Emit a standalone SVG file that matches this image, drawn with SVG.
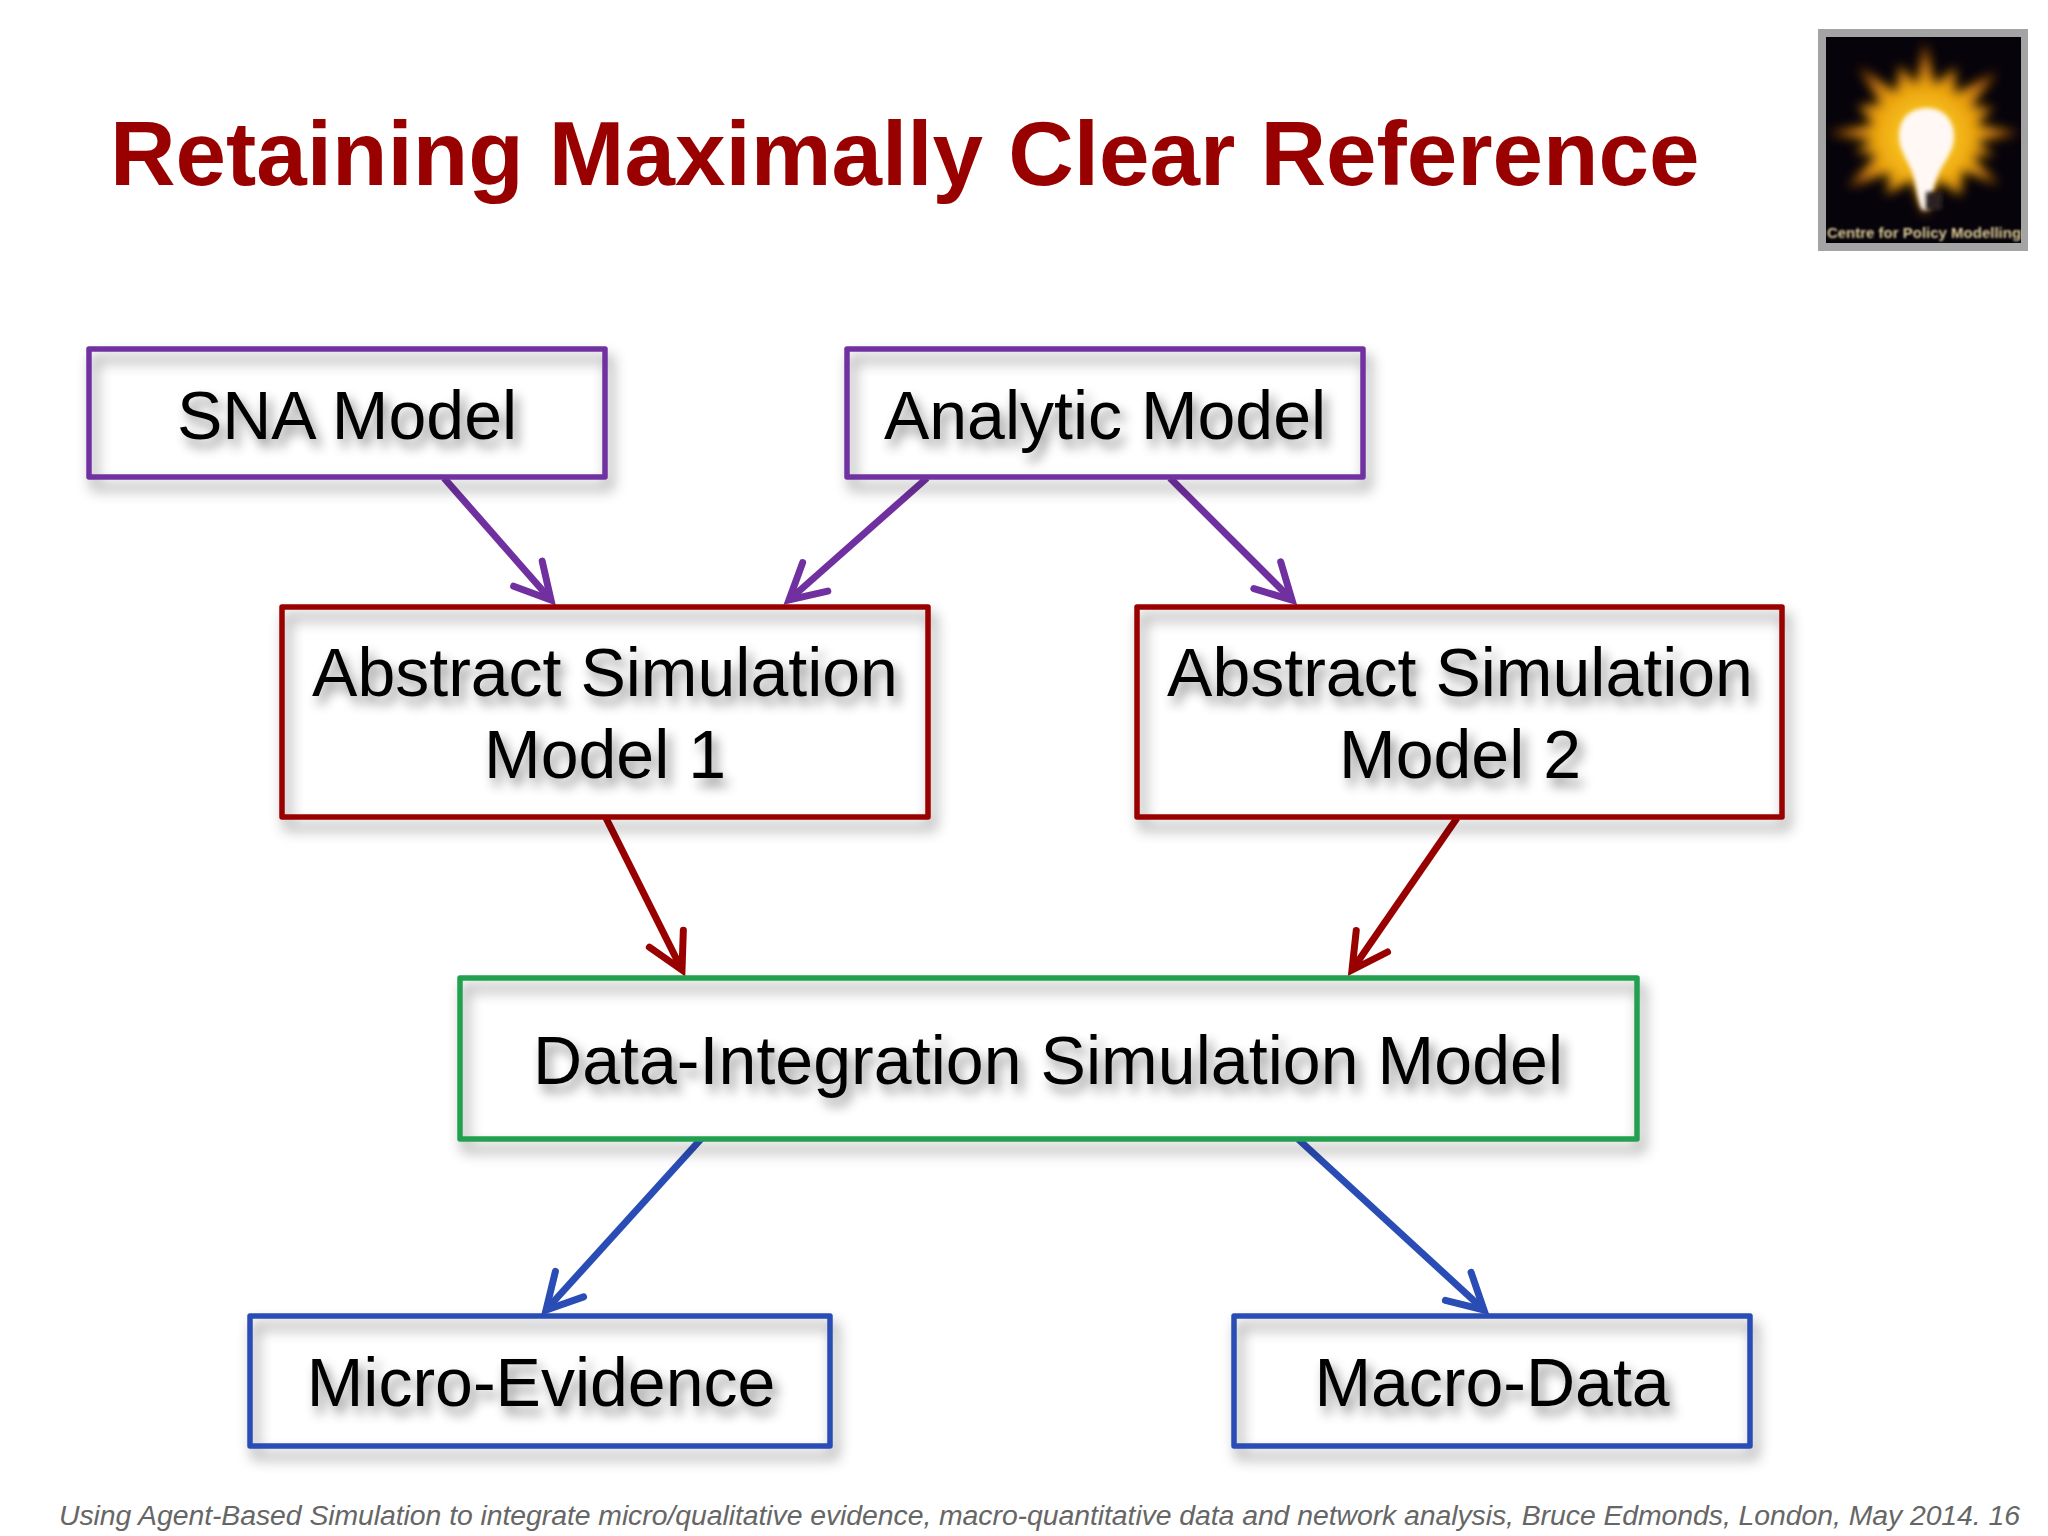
<svg xmlns="http://www.w3.org/2000/svg" width="2048" height="1536" viewBox="0 0 2048 1536">
<style>
text{font-family:"Liberation Sans",Arial,sans-serif}
.box{fill:none;stroke-width:5.500;stroke-linejoin:round;filter:url(#boxShadow)}
.lab{font-size:68px;fill:#000;text-anchor:middle;filter:url(#textShadow)}
.conn{fill:none;stroke-width:7}
.p{stroke:#7030a0}.r{stroke:#990000}.g{stroke:#22a04f}.b{stroke:#2a4db5}
</style>
<defs>
<filter id="boxShadow" x="-10%" y="-20%" width="120%" height="150%"><feDropShadow dx="5" dy="10" stdDeviation="7" flood-color="#000" flood-opacity=".42"/></filter>
<filter id="textShadow" x="-10%" y="-20%" width="120%" height="150%"><feDropShadow dx="5" dy="8" stdDeviation="6" flood-color="#000" flood-opacity=".45"/></filter>
<filter id="bl3" x="-20%" y="-20%" width="140%" height="140%"><feGaussianBlur stdDeviation="5"/></filter>
<filter id="bl1" x="-20%" y="-20%" width="140%" height="140%"><feGaussianBlur stdDeviation="2"/></filter>
<filter id="bl05" x="-5%" y="-30%" width="110%" height="160%"><feGaussianBlur stdDeviation="1"/></filter>
<radialGradient id="glow" gradientUnits="userSpaceOnUse" cx="1925" cy="137" r="90">
<stop offset="0" stop-color="#ffdc30"/><stop offset=".5" stop-color="#eda50e"/><stop offset=".8" stop-color="#c06a0c"/><stop offset="1" stop-color="#8a4208"/>
</radialGradient>
<marker id="ap" markerUnits="userSpaceOnUse" orient="auto" markerWidth="60" markerHeight="60" refX="50" refY="30" overflow="visible"><path d="M15,11 L50,30 L15,49" fill="none" stroke="#7030a0" stroke-width="7" stroke-linecap="round"/></marker>
<marker id="ar" markerUnits="userSpaceOnUse" orient="auto" markerWidth="60" markerHeight="60" refX="50" refY="30" overflow="visible"><path d="M15,11 L50,30 L15,49" fill="none" stroke="#990000" stroke-width="7" stroke-linecap="round"/></marker>
<marker id="ab" markerUnits="userSpaceOnUse" orient="auto" markerWidth="60" markerHeight="60" refX="50" refY="30" overflow="visible"><path d="M15,11 L50,30 L15,49" fill="none" stroke="#2a4db5" stroke-width="7" stroke-linecap="round"/></marker>
</defs>
<rect width="2048" height="1536" fill="#fff"/>
<text id="title" x="110" y="185" font-size="90.800" font-weight="700" fill="#990000">Retaining Maximally Clear Reference</text>
<g id="logo">
<rect x="1818" y="29" width="210" height="222" fill="#a4a4a4"/>
<rect x="1826" y="37" width="195" height="206" fill="#07030a"/>
<g transform="translate(1925 133) scale(1.1) translate(-1925 -133)"><polygon filter="url(#bl3)" fill="url(#glow)" points="1925,50 1934,89 1953,73 1952,97 1990,78 1967,109 1987,110 1972,125 2010,133 1972,141 1988,153 1968,154 1992,180 1959,167 1958,190 1937,176 1925,208 1913,176 1890,189 1893,169 1855,182 1881,153 1861,150 1877,140 1837,133 1878,125 1864,108 1885,107 1865,73 1899,96 1902,71 1917,89"/></g>
<path filter="url(#bl1)" fill="#fff8f4" d="M1927,108c-20,0-28,14-28,28c0,16 11,26 15,42c3,11 4,24 8,32h7c1-12 5-25 9-35c6-14 16-23 16-39c0-14-9-28-27-28z"/>
<rect x="1926" y="192" width="16" height="18" fill="#2a2424" filter="url(#bl1)"/>
<text id="logo-text" x="1924" y="238" font-size="15" font-weight="700" fill="#dccb96" text-anchor="middle" filter="url(#bl05)">Centre for Policy Modelling</text>
</g>
<g id="connectors">
<line class="conn p" x1="444" y1="478" x2="551" y2="600" marker-end="url(#ap)"/>
<line class="conn p" x1="927" y1="478" x2="789" y2="600" marker-end="url(#ap)"/>
<line class="conn p" x1="1170" y1="478" x2="1292" y2="600" marker-end="url(#ap)"/>
<line class="conn r" x1="606" y1="818" x2="682" y2="970" marker-end="url(#ar)"/>
<line class="conn r" x1="1457" y1="818" x2="1352" y2="970" marker-end="url(#ar)"/>
<line class="conn b" x1="701" y1="1139" x2="546" y2="1310" marker-end="url(#ab)"/>
<line class="conn b" x1="1298" y1="1139" x2="1484" y2="1310" marker-end="url(#ab)"/>
</g>
<g id="sna"><rect class="box p" x="89" y="349" width="516" height="128"/><text class="lab" x="347" y="439">SNA Model</text></g>
<g id="analytic"><rect class="box p" x="847" y="349" width="516" height="128"/><text class="lab" x="1105" y="439">Analytic Model</text></g>
<g id="abs1"><rect class="box r" x="282" y="607" width="646" height="210"/><text class="lab" x="605" y="696">Abstract Simulation</text><text class="lab" x="605" y="778">Model 1</text></g>
<g id="abs2"><rect class="box r" x="1137" y="607" width="645" height="210"/><text class="lab" x="1460" y="696">Abstract Simulation</text><text class="lab" x="1460" y="778">Model 2</text></g>
<g id="data"><rect class="box g" x="460" y="978" width="1177" height="161"/><text class="lab" x="1048" y="1084" textLength="1030">Data-Integration Simulation Model</text></g>
<g id="micro"><rect class="box b" x="250" y="1316" width="580" height="130"/><text class="lab" x="541" y="1406">Micro-Evidence</text></g>
<g id="macro"><rect class="box b" x="1234" y="1316" width="516" height="130"/><text class="lab" x="1492" y="1406">Macro-Data</text></g>
<text id="footer" x="59" y="1525" font-size="28.400" font-style="italic" fill="#666" textLength="1961">Using Agent-Based Simulation to integrate micro/qualitative evidence, macro-quantitative data and network analysis, Bruce Edmonds, London, May 2014. 16</text>
</svg>
